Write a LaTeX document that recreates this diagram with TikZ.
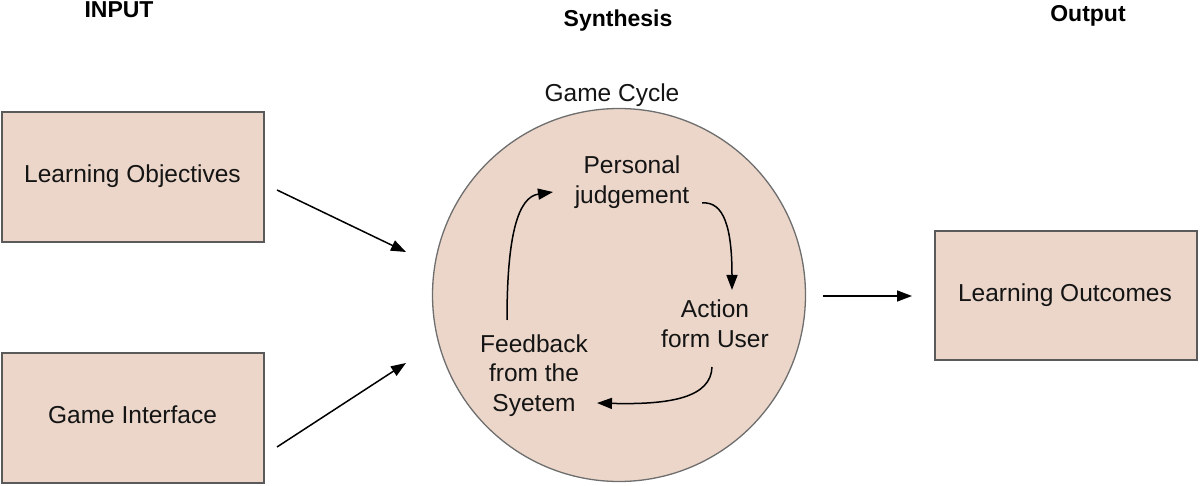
\documentclass[tikz,border=0pt]{standalone}
\usepackage{fontspec}
\setmainfont{Liberation Sans}
\usetikzlibrary{arrows.meta}
\definecolor{boxfill}{RGB}{235,214,201}
\definecolor{boxline}{RGB}{90,90,90}
\definecolor{circline}{RGB}{110,110,110}
\definecolor{txt}{RGB}{20,20,20}
\tikzset{
  header/.style={font=\bfseries\fontsize{23}{27}\selectfont, anchor=base, inner sep=0pt},
  boxnode/.style={draw=boxline, line width=1.5pt, fill=boxfill, inner sep=0pt},
  label/.style={font=\fontsize{24.5}{30}\selectfont, text=txt, inner sep=0pt, align=center},
  conn/.style={line width=1.5pt, -{Triangle[length=15pt,width=11pt]}},
}
\begin{document}
\begin{tikzpicture}[x=1pt,y=-1pt]
\useasboundingbox (0,0) rectangle (1200,486);
% headers
\node[header] (hin) at (119,18) {INPUT};
\node[header] (hsyn) at (618,27) {Synthesis};
\node[header] (hout) at (1088,22) {Output};
% boxes
\node[boxnode, minimum width=262pt, minimum height=130pt] (lobj) at (133,177) {};
\node[boxnode, minimum width=262pt, minimum height=130pt] (gint) at (133,418) {};
\node[boxnode, minimum width=262pt, minimum height=129pt] (lout) at (1066,295.5) {};
\node[label, anchor=base] (lobjt) at (132.5,183) {Learning Objectives};
\node[label, anchor=base] (gintt) at (132.5,424) {Game Interface};
\node[label, anchor=base] (loutt) at (1065,302) {Learning Outcomes};
% circle
\node[circle, draw=circline, line width=1.3pt, fill=boxfill, minimum size=373pt, inner sep=0pt] (cyc) at (619,295) {};
\node[label, anchor=base] (cyct) at (612,102) {Game Cycle};
% inner texts
\node[label] (pj) at (632,181.8) {Personal\\judgement};
\node[label] (act) at (715,324) {Action\\form User};
\node[label, font=\fontsize{24.5}{29.5}\selectfont] (fb) at (534,375.3) {Feedback\\from the\\Syetem};
% connector endpoints
\coordinate (a1s) at (277,190);
\coordinate (a1e) at (406,252);
\coordinate (a2s) at (277,447);
\coordinate (a2e) at (406,363);
\coordinate (a3s) at (823,296);
\coordinate (a3e) at (912,296);
\coordinate (c1s) at (507,320);
\coordinate (c1e) at (553,192);
\coordinate (c2s) at (702,203);
\coordinate (c2e) at (732,290);
\coordinate (c3s) at (712,367);
\coordinate (c3e) at (597,403);
% connectors
\draw[conn] (a1s) -- (a1e);
\draw[conn] (a2s) -- (a2e);
\draw[conn] (a3s) -- (a3e);
\draw[conn] (c1s) .. controls (507,235) and (518,197) .. (c1e);
\draw[conn] (c2s) .. controls (724,201) and (732,228) .. (c2e);
\draw[conn] (c3s) .. controls (711,397) and (672,405) .. (c3e);
\end{tikzpicture}
\end{document}
